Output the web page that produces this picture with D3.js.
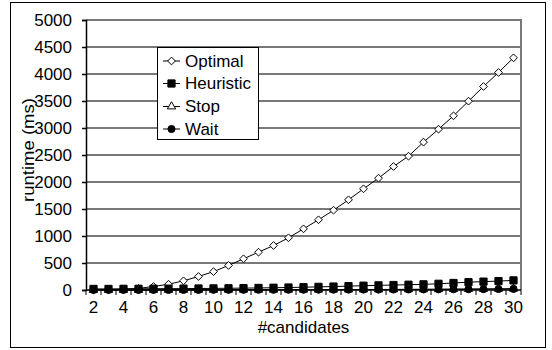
<!DOCTYPE html>
<html><head><meta charset="utf-8">
<script src="https://cdn.jsdelivr.net/npm/d3@7"></script>
<style>
html,body{margin:0;padding:0;background:#fff;}
svg{display:block;font-family:"Liberation Sans",Arial,sans-serif;}
</style></head>
<body>
<svg id="chart" width="552" height="350"></svg>
<script>
const categories = [2,3,4,5,6,7,8,9,10,11,12,13,14,15,16,17,18,19,20,21,22,23,24,25,26,27,28,29,30];
const optimal   = [2,5,15,30,65,107,170,250,340,454,578,700,824,967,1133,1300,1478,1670,1874,2071,2287,2478,2738,2978,3226,3497,3769,4028,4300];
const heuristic = [20,20,22,22,24,25,26,28,30,32,35,38,42,46,52,58,64,72,80,86,92,98,105,115,130,145,155,165,178];
const stopVals  = [1,1,1,1,2,2,2,3,3,3,4,4,5,5,6,6,7,8,9,10,11,12,13,14,16,17,19,21,23];
const waitVals  = [1,1,1,1,1,2,2,2,3,3,3,4,4,5,5,6,6,7,8,8,9,10,11,12,13,15,16,18,20];
const yTicks = [0,500,1000,1500,2000,2500,3000,3500,4000,4500,5000];
const xLabelCats = [2,4,6,8,10,12,14,16,18,20,22,24,26,28,30];
const seriesNames = ["Optimal","Heuristic","Stop","Wait"];
const yTitle = "runtime (ms)";
const xTitle = "#candidates";

const svg = d3.select("#chart");
const L = 86, R = 521, T = 20, B = 290;

// outer frame
svg.append("rect").attr("x",10.5).attr("y",2.5).attr("width",535).attr("height",345)
  .attr("fill","#fff").attr("stroke","#000").attr("stroke-width",1);

const x = d3.scaleBand().domain(categories).range([L,R]).paddingInner(0).paddingOuter(0);
const cx = d => x(d) + x.bandwidth()/2;
const y = d3.scaleLinear().domain([0,5000]).range([B,T]);

// gridlines
svg.append("g").selectAll("line").data(yTicks.filter(v=>v>0)).join("line")
  .attr("x1",L).attr("x2",R).attr("y1",d=>y(d)).attr("y2",d=>y(d))
  .attr("stroke","#787878").attr("stroke-width",2);
// right border of plot area
svg.append("line").attr("x1",R).attr("x2",R).attr("y1",T-1).attr("y2",B)
  .attr("stroke","#787878").attr("stroke-width",2);

// y axis
const yAxis = svg.append("g").attr("transform",`translate(${L},0)`)
  .call(d3.axisLeft(y).tickValues(yTicks).tickSize(4).tickPadding(10).tickFormat(d3.format("d")));
yAxis.attr("font-family",null);
yAxis.select(".domain").attr("stroke","#000").attr("stroke-width",1.5);
yAxis.selectAll(".tick line").attr("stroke","#000").attr("stroke-width",1.5);
yAxis.selectAll("text").attr("font-size",17).attr("fill","#000");

// x axis: ticks at category boundaries
const xg = svg.append("g");
xg.append("line").attr("x1",L).attr("x2",R).attr("y1",y(0)).attr("y2",y(0))
  .attr("stroke","#000").attr("stroke-width",1.5);
xg.selectAll("line.tk").data(categories.concat([null])).join("line").attr("class","tk")
  .attr("x1",(d,i)=> i<categories.length ? x(d) : R)
  .attr("x2",(d,i)=> i<categories.length ? x(d) : R)
  .attr("y1",y(0)).attr("y2",y(0)+5).attr("stroke","#000").attr("stroke-width",1);
xg.selectAll("text").data(xLabelCats).join("text")
  .attr("x",d=>cx(d)).attr("y",313).attr("text-anchor","middle")
  .attr("font-size",17).attr("fill","#000").text(d=>d);

// titles
svg.append("text").attr("x",(L+R)/2).attr("y",333).attr("text-anchor","middle")
  .attr("font-size",17).attr("fill","#000").text(xTitle);
svg.append("text").attr("transform","translate(34,150) rotate(-90)").attr("text-anchor","middle")
  .attr("font-size",17).attr("fill","#000")
  .attr("textLength",104).attr("lengthAdjust","spacingAndGlyphs").text(yTitle);

// marker drawers
const squareDiamond = {draw(ctx,size){const r=Math.sqrt(size/2);ctx.moveTo(0,-r);ctx.lineTo(r,0);ctx.lineTo(0,r);ctx.lineTo(-r,0);ctx.closePath();}};
const sym = {
  Optimal:   {type:squareDiamond,    size:30, fill:"#fff"},
  Heuristic: {type:d3.symbolSquare,  size:52, fill:"#000"},
  Stop:      {type:d3.symbolTriangle,size:30, fill:"#fff"},
  Wait:      {type:d3.symbolCircle,  size:40, fill:"#000"}
};
const data = {Optimal:optimal, Heuristic:heuristic, Stop:stopVals, Wait:waitVals};
const line = d3.line().x(d=>cx(d[0])).y(d=>y(d[1]));

seriesNames.forEach(name=>{
  const pts = categories.map((c,i)=>[c,data[name][i]]);
  const g = svg.append("g");
  g.append("path").attr("d",line(pts)).attr("fill","none").attr("stroke","#000").attr("stroke-width",1);
  g.selectAll("path.m").data(pts).join("path").attr("class","m")
    .attr("transform",d=>`translate(${cx(d[0])},${y(d[1])})`)
    .attr("d",d3.symbol(sym[name].type, sym[name].size))
    .attr("fill",sym[name].fill).attr("stroke","#000").attr("stroke-width",1);
});

// legend
const lg = svg.append("g");
lg.append("rect").attr("x",157.5).attr("y",47.5).attr("width",101).attr("height",92)
  .attr("fill","#fff").attr("stroke","#000").attr("stroke-width",1);
const ly = [61,83.5,106.5,129];
seriesNames.forEach((name,i)=>{
  lg.append("line").attr("x1",163).attr("x2",180).attr("y1",ly[i]).attr("y2",ly[i])
    .attr("stroke","#000").attr("stroke-width",1);
  lg.append("path").attr("transform",`translate(171.5,${ly[i]})`)
    .attr("d",d3.symbol(sym[name].type, sym[name].size))
    .attr("fill",sym[name].fill).attr("stroke","#000").attr("stroke-width",1);
  lg.append("text").attr("x",185).attr("y",ly[i]).attr("dy","0.35em")
    .attr("font-size",17).attr("fill","#000").text(name);
});
</script>
</body></html>
